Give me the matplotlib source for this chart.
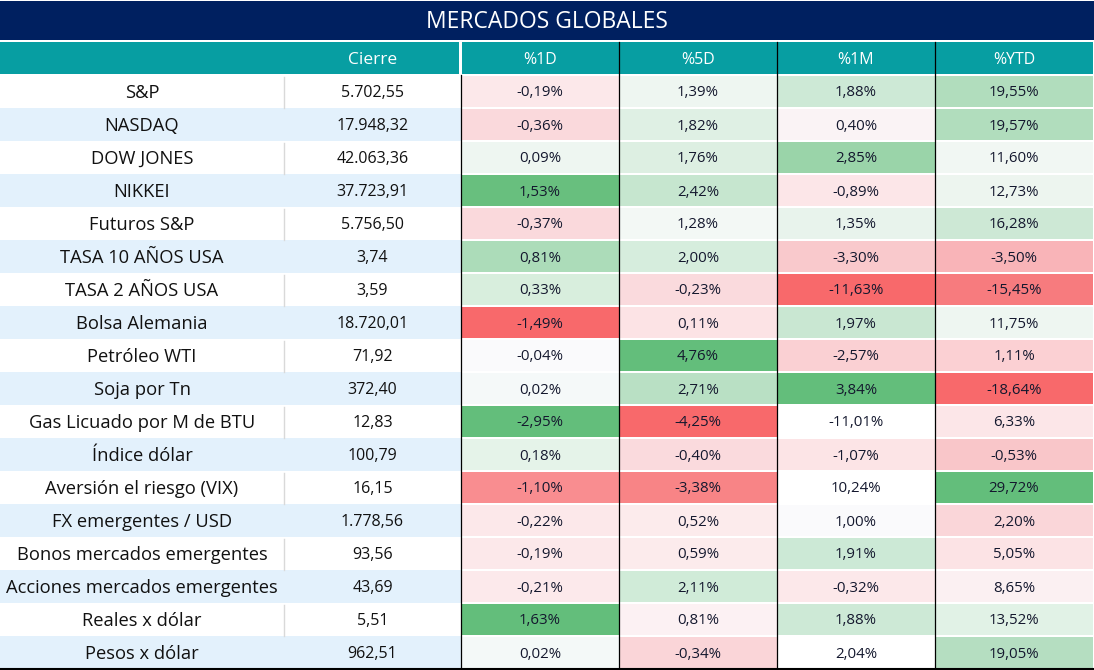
import matplotlib
matplotlib.use("Agg")
import matplotlib.pyplot as plt
from matplotlib.patches import Rectangle

title = "MERCADOS GLOBALES"
columns = ["Cierre", "%1D", "%5D", "%1M", "%YTD"]
labels = ["S&P", "NASDAQ", "DOW JONES", "NIKKEI", "Futuros S&P", "TASA 10 AÑOS USA",
          "TASA 2 AÑOS USA", "Bolsa Alemania", "Petróleo WTI", "Soja por Tn",
          "Gas Licuado por M de BTU", "Índice dólar", "Aversión el riesgo (VIX)",
          "FX emergentes / USD", "Bonos mercados emergentes",
          "Acciones mercados emergentes", "Reales x dólar", "Pesos x dólar"]
cierre = [5702.55, 17948.32, 42063.36, 37723.91, 5756.50, 3.74, 3.59, 18720.01, 71.92,
          372.40, 12.83, 100.79, 16.15, 1778.56, 93.56, 43.69, 5.51, 962.51]
pct_1d = [-0.19, -0.36, 0.09, 1.53, -0.37, 0.81, 0.33, -1.49, -0.04, 0.02, -2.95, 0.18,
          -1.10, -0.22, -0.19, -0.21, 1.63, 0.02]
pct_5d = [1.39, 1.82, 1.76, 2.42, 1.28, 2.00, -0.23, 0.11, 4.76, 2.71, -4.25, -0.40,
          -3.38, 0.52, 0.59, 2.11, 0.81, -0.34]
pct_1m = [1.88, 0.40, 2.85, -0.89, 1.35, -3.30, -11.63, 1.97, -2.57, 3.84, -11.01, -1.07,
          10.24, 1.00, 1.91, -0.32, 1.88, 2.04]
pct_ytd = [19.55, 19.57, 11.60, 12.73, 16.28, -3.50, -15.45, 11.75, 1.11, -18.64, 6.33,
           -0.53, 29.72, 2.20, 5.05, 8.65, 13.52, 19.05]

# conditional-format fill colours as shown in the reference (style)
fill_1d = ["#FCE8EA", "#FAD9DC", "#EEF6F1", "#68BF7E", "#FAD9DC", "#ACDCB9", "#D8EEDD",
           "#F8696B", "#FAFAFC", "#F5F9F9", "#63BE7B", "#E5F3E9", "#F98D90", "#FCE8EA",
           "#FCE8EA", "#FCE9EB", "#63BE7B", "#F4F9F8"]
fill_5d = ["#EEF6F1", "#DFF0E4", "#DDEFE2", "#C6E6CF", "#F3F8F5", "#D6EDDD", "#FADADD",
           "#FCE3E5", "#63BE7B", "#B9E0C4", "#F8696B", "#FADADD", "#F88486", "#FCEBEC",
           "#FCEBEC", "#D0EBD8", "#FCF1F3", "#FAD5D8"]
fill_1m = ["#CDE9D6", "#FAF3F5", "#9AD4A9", "#FCE6E8", "#E8F3EC", "#F9C9CC", "#F8696B",
           "#C9E7D2", "#FAD0D3", "#63BE7B", "#FFFFFF", "#FCE4E6", "#FFFFFF", "#FAFAFC",
           "#CCE9D6", "#FCE8EA", "#CDE9D6", "#FFFFFF"]
fill_ytd = ["#B1DDBD", "#B1DDBD", "#F1F7F3", "#EDF5EF", "#CDE8D5", "#F9B4B8", "#F77B7E",
            "#EEF6F1", "#FBD0D3", "#F8696B", "#FCE6E8", "#F9C6C9", "#63BE7B", "#FAD6D9",
            "#FCE3E5", "#FBF0F2", "#E1F2E6", "#B5DEC1"]


def fmt_es(v, dec=2):
    s = f"{abs(v):,.{dec}f}".replace(",", "X").replace(".", ",").replace("X", ".")
    return ("-" if v < 0 else "") + s


FONT = ["Open Sans", "DejaVu Sans"]
W, H = 1094, 670
fig = plt.figure(figsize=(W / 100, H / 100), dpi=100)
ax = fig.add_axes([0, 0, 1, 1])
ax.set_xlim(0, W)
ax.set_ylim(H, 0)
ax.axis("off")

NAVY = "#002060"
TEAL = "#079EA2"
BLUE = "#E3F1FC"
TXT = "#14182E"
DY = 1.5  # text baseline nudge

col_edges = [0, 284, 461, 619, 777, 935, 1093]
title_top, title_bot = 1, 40
head_top, head_bot = 42, 74
row_top0, row_h = 75, 33

# title bar
ax.add_patch(Rectangle((0, title_top), W, title_bot - title_top, color=NAVY, lw=0))
ax.text(W / 2, (title_top + title_bot) / 2 + 1, title, color="white", fontsize=16.5,
        ha="center", va="center", family=FONT)

# header
ax.add_patch(Rectangle((0, head_top), col_edges[2] - 2, head_bot - head_top, color=TEAL, lw=0))
ax.add_patch(Rectangle((col_edges[2] + 1, head_top), col_edges[6] - col_edges[2] - 1,
                       head_bot - head_top, color=TEAL, lw=0))
for x in col_edges[3:6]:
    ax.plot([x, x], [head_top, head_bot], color="black", lw=0.9)
ax.text((col_edges[1] + col_edges[2]) / 2, (head_top + head_bot) / 2 + DY, columns[0],
        color="white", fontsize=12.5, ha="center", va="center", family=FONT)
for j, c in enumerate(columns[1:]):
    xc = (col_edges[j + 2] + col_edges[j + 3]) / 2
    ax.text(xc, (head_top + head_bot) / 2 + DY, c, color="white", fontsize=11.5,
            ha="center", va="center", family=FONT)

pcts = [pct_1d, pct_5d, pct_1m, pct_ytd]
fills = [fill_1d, fill_5d, fill_1m, fill_ytd]
for i, lab in enumerate(labels):
    top = row_top0 + i * row_h
    yc = top + row_h / 2 + DY
    bg = "white" if i % 2 == 0 else BLUE
    ax.add_patch(Rectangle((0, top), col_edges[2], row_h, color=bg, lw=0))
    if i % 2 == 0:
        ax.plot([col_edges[1], col_edges[1]], [top + 2, top + row_h], color="#D9D9D9", lw=1)
    ax.text((col_edges[0] + col_edges[1]) / 2, yc, lab, color="#111111", fontsize=13.2,
            ha="center", va="center", family=FONT)
    ax.text((col_edges[1] + col_edges[2]) / 2, yc, fmt_es(cierre[i]), color="#111111",
            fontsize=11.5, ha="center", va="center", family=FONT)
    for j in range(4):
        x0, x1 = col_edges[j + 2], col_edges[j + 3]
        ax.add_patch(Rectangle((x0, top + 1), x1 - x0, row_h - 2, color=fills[j][i], lw=0))
        ax.text((x0 + x1) / 2, yc, fmt_es(pcts[j][i]) + "%", color=TXT, fontsize=10.8,
                ha="center", va="center", family=FONT)

data_bot = row_top0 + len(labels) * row_h
for x in col_edges[2:6]:
    ax.plot([x, x], [row_top0, data_bot], color="black", lw=0.9)
ax.plot([0, W], [data_bot - 0.5, data_bot - 0.5], color="black", lw=1.5)

fig.savefig("out.png", dpi=100)
